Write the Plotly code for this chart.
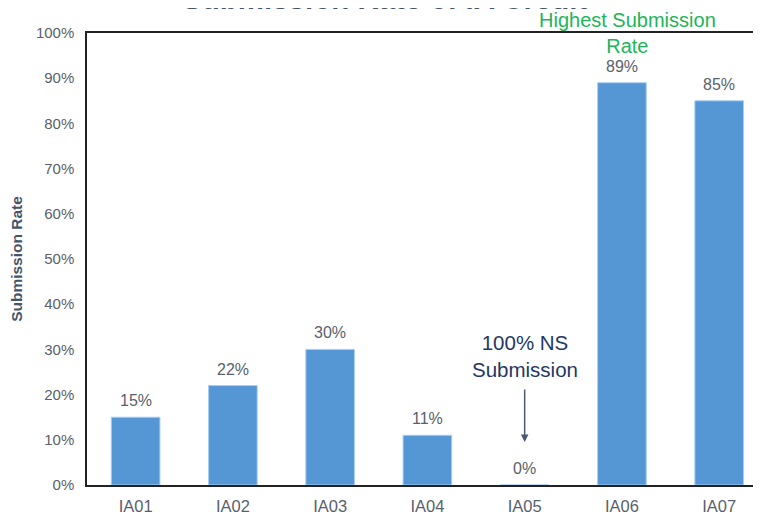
import plotly.graph_objects as go

# dados
categorias = ["IA01", "IA02", "IA03", "IA04", "IA05", "IA06", "IA07"]
taxa = [0.15, 0.22, 0.30, 0.11, 0.0, 0.89, 0.85]
y_ticks = [i / 10 for i in range(11)]

COR_BARRA = "#5597d5"
COR_TEXTO = "#595f6b"
COR_TITULO = "#44546a"
FONTE = "Liberation Sans, Arial, sans-serif"

fig = go.Figure(
    go.Bar(
        x=categorias, y=taxa, width=0.5,
        marker=dict(color=COR_BARRA, line=dict(color="#a9cdf0", width=1)),
        hovertemplate="<b>%{x}</b><br>%{y:.0%}<extra></extra>",
    )
)

# rótulos de valor acima das barras
for cat, v in zip(categorias, taxa):
    fig.add_annotation(x=cat, y=v, text=f"{v:.0%}", showarrow=False,
                       yanchor="bottom", yshift=6,
                       font=dict(size=16, color=COR_TEXTO))

# título (cortado no topo, como na referência)
fig.add_annotation(xref="paper", yref="paper", x=0.442, y=1.077,
                   text="<b>Submission Rate of IA Credit</b>", showarrow=False,
                   yanchor="middle", font=dict(size=29.5, color=COR_TITULO))

fig.add_annotation(x="IA06", y=1.0, xshift=6, text="Highest Submission<br>Rate",
                   showarrow=False, yanchor="middle",
                   font=dict(size=20, color="#22b45a"))

fig.add_annotation(x="IA05", y=0.285, text="100% NS<br>Submission",
                   showarrow=False, yanchor="middle",
                   font=dict(size=20.5, color="#1f3864"))
fig.add_annotation(x="IA05", y=0.095, ax=0, ay=-54, text="",
                   showarrow=True, arrowhead=2, arrowsize=1, arrowwidth=1.5,
                   arrowcolor="#4a5a75")

fig.update_xaxes(type="category", range=[-0.5, 6.43], showline=True,
                 linecolor="#222", linewidth=1.5, mirror=True, ticks="",
                 automargin=False, ticklabelstandoff=5,
                 tickfont=dict(size=16.5, color=COR_TEXTO), showgrid=False)
fig.update_yaxes(range=[0, 1], tickvals=y_ticks, tickformat=".0%",
                 showline=True, linecolor="#222", linewidth=1.5,
                 ticks="outside", ticklen=8, tickcolor="white",
                 automargin=False,
                 showgrid=False, zeroline=False,
                 tickfont=dict(size=15, color=COR_TEXTO),
                 title=dict(text="<b>Submission Rate</b>", standoff=10,
                            font=dict(size=15.5, color=COR_TITULO)))
# a página tem 8 px de margem no body: figura 753x504 ocupa a janela 761x512
fig.update_layout(
    width=753, height=504,
    margin=dict(l=79, r=0, t=25, b=27),
    plot_bgcolor="white", paper_bgcolor="white",
    font=dict(family=FONTE),
    showlegend=False,
)
fig.write_html("out.html")
